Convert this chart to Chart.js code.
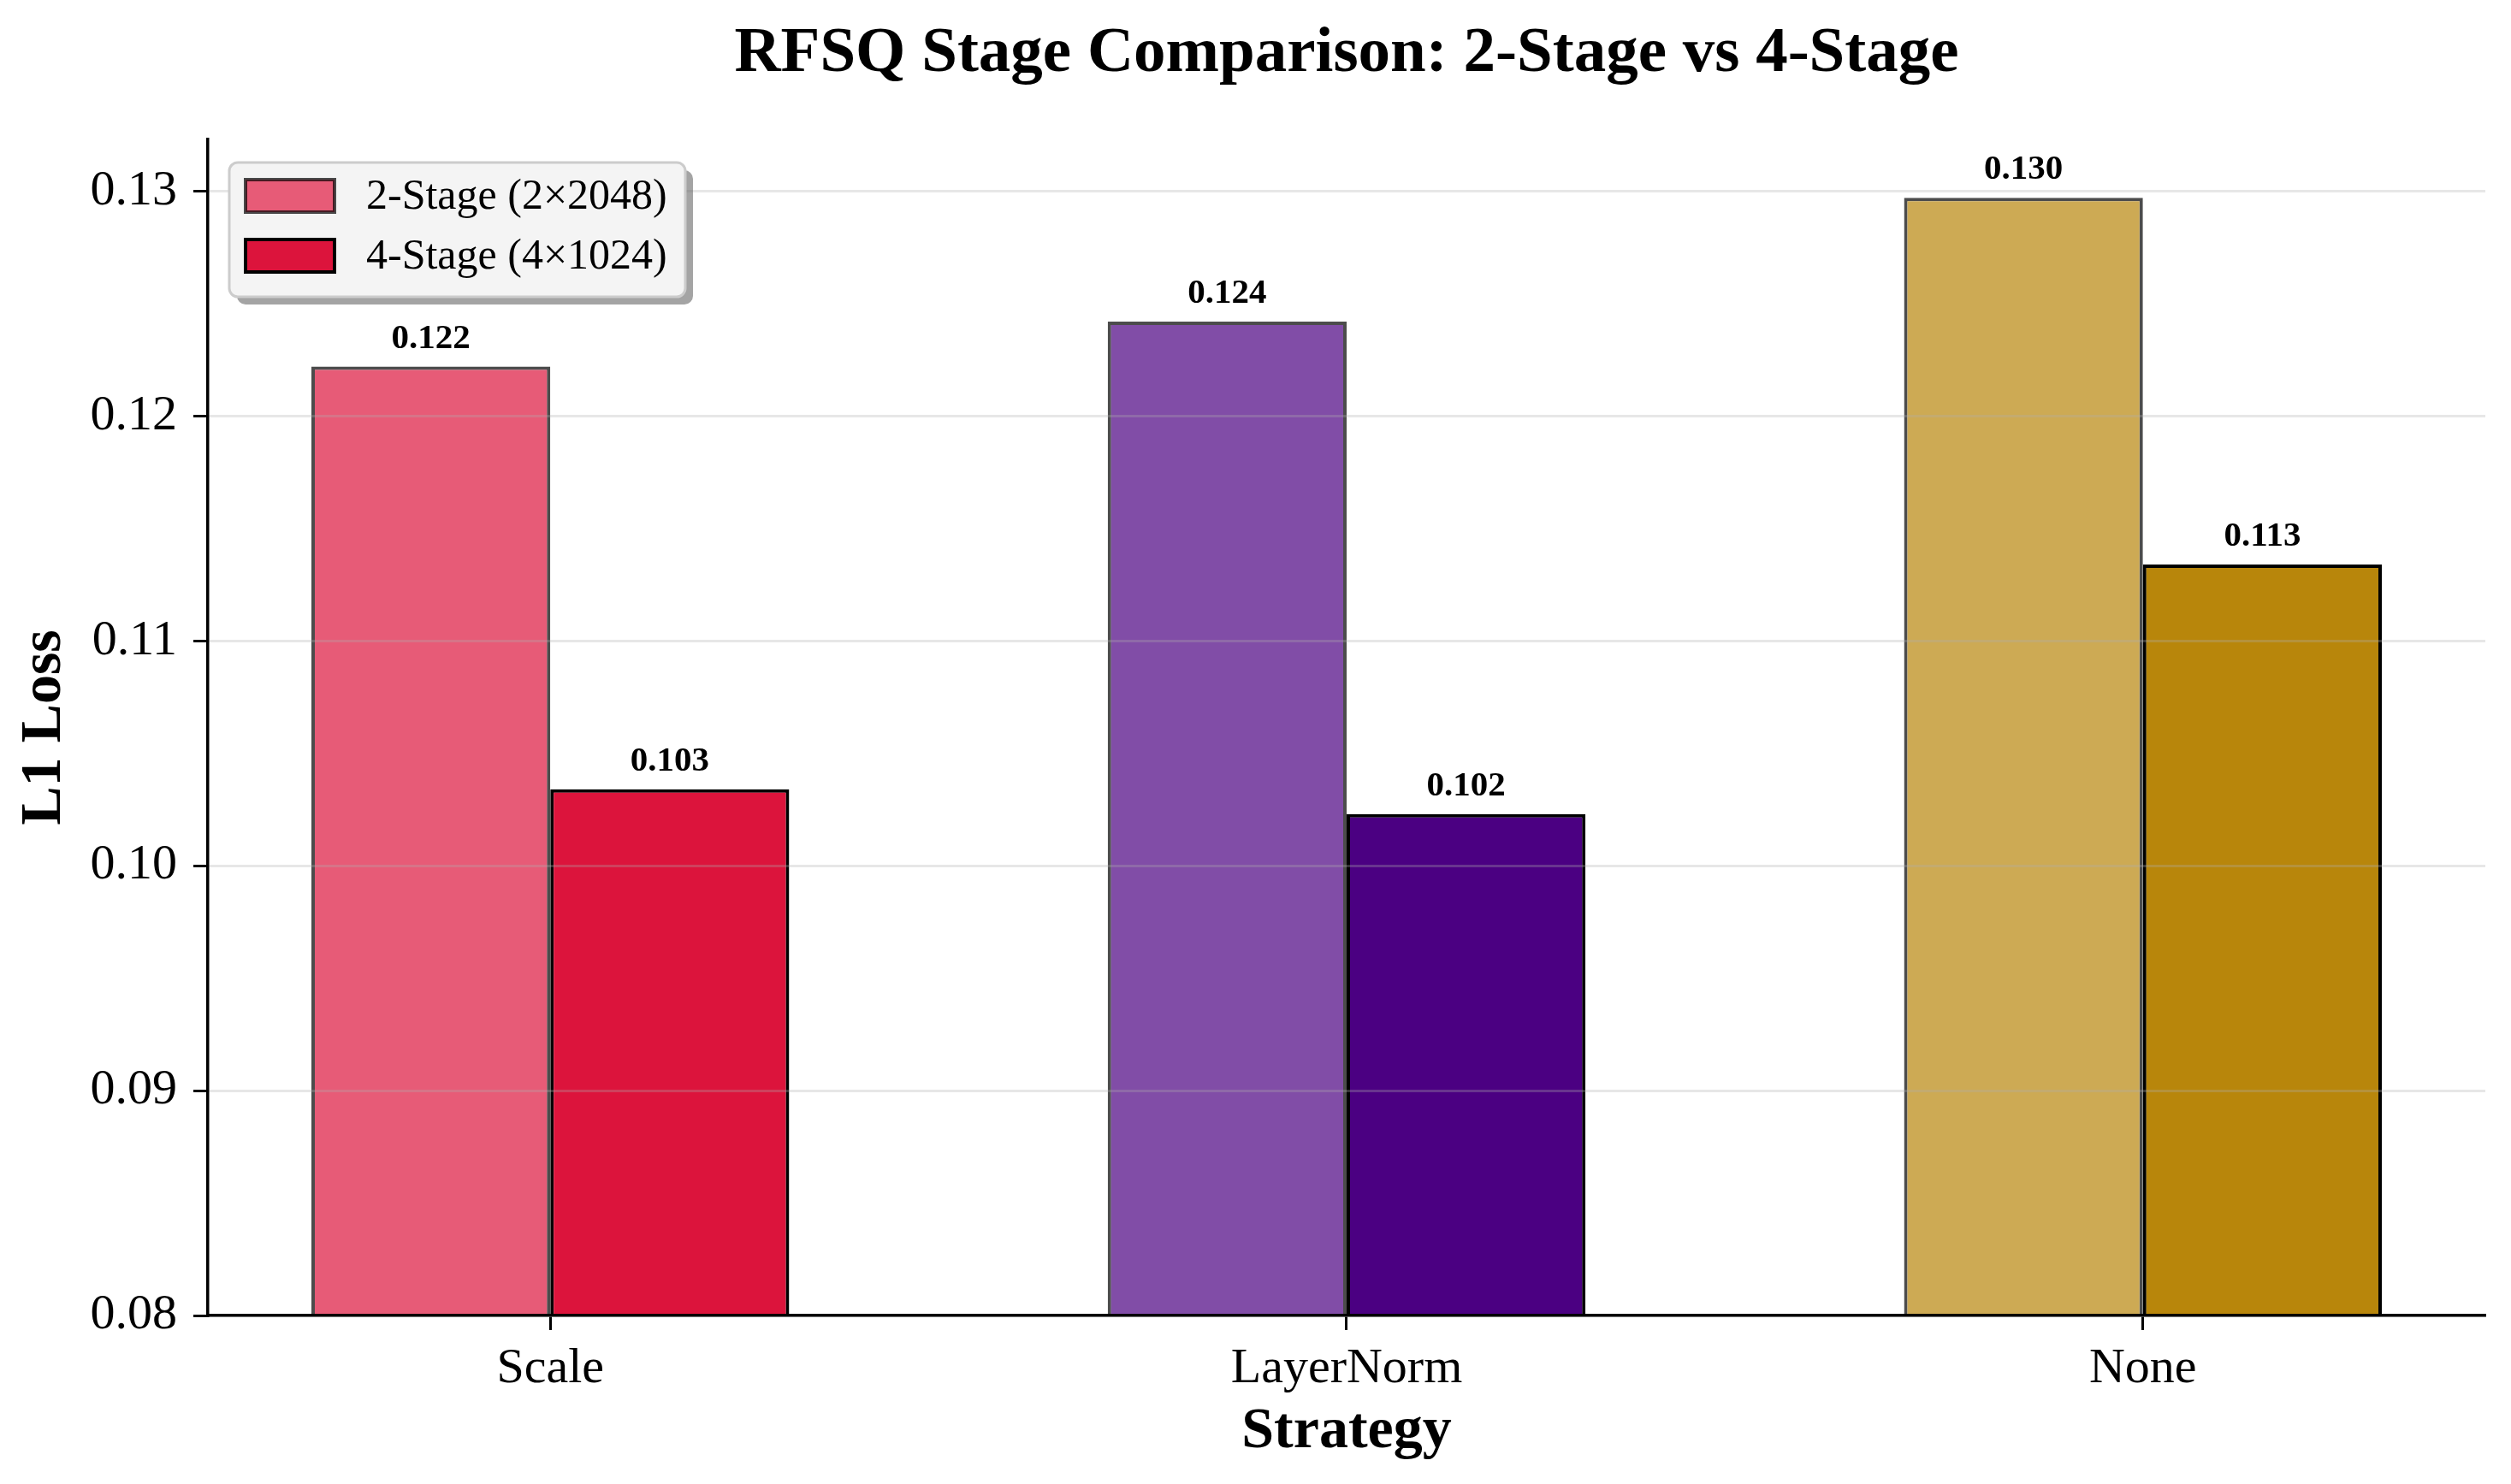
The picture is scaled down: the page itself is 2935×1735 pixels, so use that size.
<!DOCTYPE html>
<html><head><meta charset="utf-8">
<script src="https://cdn.jsdelivr.net/npm/chart.js@4.4.0/dist/chart.umd.min.js"></script>
<style>html,body{margin:0;padding:0;background:#fff;} canvas{display:block;}</style>
</head><body>
<canvas id="c" width="2935" height="1735" style="width:2935px;height:1735px"></canvas>
<script>
// ---- data ----
const categories = ['Scale', 'LayerNorm', 'None'];
const seriesLabels = ['2-Stage (2×2048)', '4-Stage (4×1024)'];
const twoStage = [0.1222, 0.1242, 0.1297];
const fourStage = [0.1034, 0.1023, 0.1134];
const yTicks = [0.08, 0.09, 0.10, 0.11, 0.12, 0.13];
const yMin = 0.08, yMax = 0.1323;

// ---- styles ----
const twoStageColors = ['#E75B77', '#814DA7', '#CDAA54'];
const fourStageColors = ['#DC143C', '#4B0082', '#B8860B'];
const FONT = 'Liberation Serif';

const valueLabels = {
  id: 'valueLabels',
  afterDraw(chart) {
    const ctx = chart.ctx;
    ctx.save();
    ctx.fillStyle = '#000';
    ctx.font = 'bold 41px "' + FONT + '"';
    ctx.textAlign = 'center';
    ctx.textBaseline = 'alphabetic';
    chart.data.datasets.forEach((ds, di) => {
      const meta = chart.getDatasetMeta(di);
      meta.data.forEach((bar, i) => {
        const v = ds.data[i].y;
        ctx.fillText(v.toFixed(3), bar.x, bar.y - 22);
      });
    });
    ctx.restore();
  }
};

function roundRect(ctx, x, y, w, h, r) {
  ctx.beginPath();
  ctx.moveTo(x + r, y);
  ctx.lineTo(x + w - r, y);
  ctx.arcTo(x + w, y, x + w, y + r, r);
  ctx.lineTo(x + w, y + h - r);
  ctx.arcTo(x + w, y + h, x + w - r, y + h, r);
  ctx.lineTo(x + r, y + h);
  ctx.arcTo(x, y + h, x, y + h - r, r);
  ctx.lineTo(x, y + r);
  ctx.arcTo(x, y, x + r, y, r);
  ctx.closePath();
}

const boxLegend = {
  id: 'boxLegend',
  afterDraw(chart) {
    const ctx = chart.ctx;
    const a = chart.chartArea;
    const x = a.left + 25, y = a.top + 27, w = 533, h = 157, r = 10;
    ctx.save();
    ctx.fillStyle = 'rgba(90,90,90,0.55)';
    roundRect(ctx, x + 9, y + 9, w, h, r);
    ctx.fill();
    ctx.fillStyle = '#f4f4f4';
    roundRect(ctx, x, y, w, h, r);
    ctx.fill();
    ctx.strokeStyle = '#cccccc';
    ctx.lineWidth = 3;
    ctx.stroke();
    ctx.font = '50px "' + FONT + '"';
    ctx.textAlign = 'left';
    ctx.textBaseline = 'middle';
    chart.data.datasets.forEach((ds, di) => {
      const cy = y + 39 + di * 70;
      const sx = x + 19, sw = 104, sh = 38;
      ctx.fillStyle = ds.backgroundColor[0];
      ctx.fillRect(sx, cy - sh / 2, sw, sh);
      ctx.strokeStyle = ds.borderColor;
      ctx.lineWidth = 4;
      ctx.strokeRect(sx, cy - sh / 2, sw, sh);
      ctx.fillStyle = '#000';
      ctx.fillText(ds.label, x + 160, cy + 2);
    });
    ctx.restore();
  }
};

new Chart(document.getElementById('c'), {
  type: 'bar',
  data: {
    datasets: [
      {
        label: seriesLabels[0],
        data: twoStage.map((v, i) => ({ x: i, y: v })),
        backgroundColor: twoStageColors,
        borderColor: 'rgba(0,0,0,0.7)',
        borderWidth: 4,
        borderSkipped: false
      },
      {
        label: seriesLabels[1],
        data: fourStage.map((v, i) => ({ x: i, y: v })),
        backgroundColor: fourStageColors,
        borderColor: '#000',
        borderWidth: 4,
        borderSkipped: false
      }
    ]
  },
  options: {
    responsive: false,
    animation: false,
    devicePixelRatio: 1,
    categoryPercentage: 0.6,
    barPercentage: 1.0,
    layout: { padding: { left: 0, right: 30, top: 0, bottom: 0 } },
    plugins: {
      legend: { display: false },
      tooltip: { enabled: false },
      title: {
        display: true,
        fullSize: false,
        text: 'RFSQ Stage Comparison: 2-Stage vs 4-Stage',
        color: '#000',
        font: { family: FONT, size: 75, weight: 'bold', lineHeight: 1.2 },
        padding: { top: 19, bottom: 54 }
      }
    },
    scales: {
      x: {
        type: 'linear',
        min: -0.43,
        max: 2.43,
        offset: false,
        grid: { display: true, offset: false, drawOnChartArea: false, drawTicks: true, tickLength: 17, tickColor: '#000', tickWidth: 3 },
        border: { display: true, color: '#000', width: 3.5, z: 2 },
        ticks: {
          color: '#000',
          font: { family: FONT, size: 58 },
          padding: 11,
          maxRotation: 0,
          autoSkip: false,
          callback: (v) => (categories[v] !== undefined ? categories[v] : '')
        },
        afterBuildTicks: (s) => { s.ticks = categories.map((_, i) => ({ value: i })); },
        afterFit: (s) => { s.height = 197; },
        title: {
          display: true,
          text: 'Strategy',
          color: '#000',
          font: { family: FONT, size: 68, weight: 'bold', lineHeight: 1.2 },
          padding: { top: 0, bottom: 20 }
        }
      },
      y: {
        min: yMin,
        max: yMax,
        grid: { color: 'rgba(176,176,176,0.3)', lineWidth: 3, z: 1, tickLength: 17, tickColor: '#000', tickWidth: 3 },
        border: { display: true, color: '#000', width: 3.5, z: 2 },
        ticks: {
          color: '#000',
          font: { family: FONT, size: 58 },
          padding: 19,
          callback: (v) => v.toFixed(2)
        },
        afterBuildTicks: (s) => { s.ticks = yTicks.map((v) => ({ value: v })); },
        afterFit: (s) => { s.width = 243; },
        title: {
          display: true,
          text: 'L1 Loss',
          color: '#000',
          font: { family: FONT, size: 68, weight: 'bold', lineHeight: 1.2 },
          padding: { top: 12, bottom: 0 }
        }
      }
    }
  },
  plugins: [valueLabels, boxLegend]
});
</script>
</body></html>
